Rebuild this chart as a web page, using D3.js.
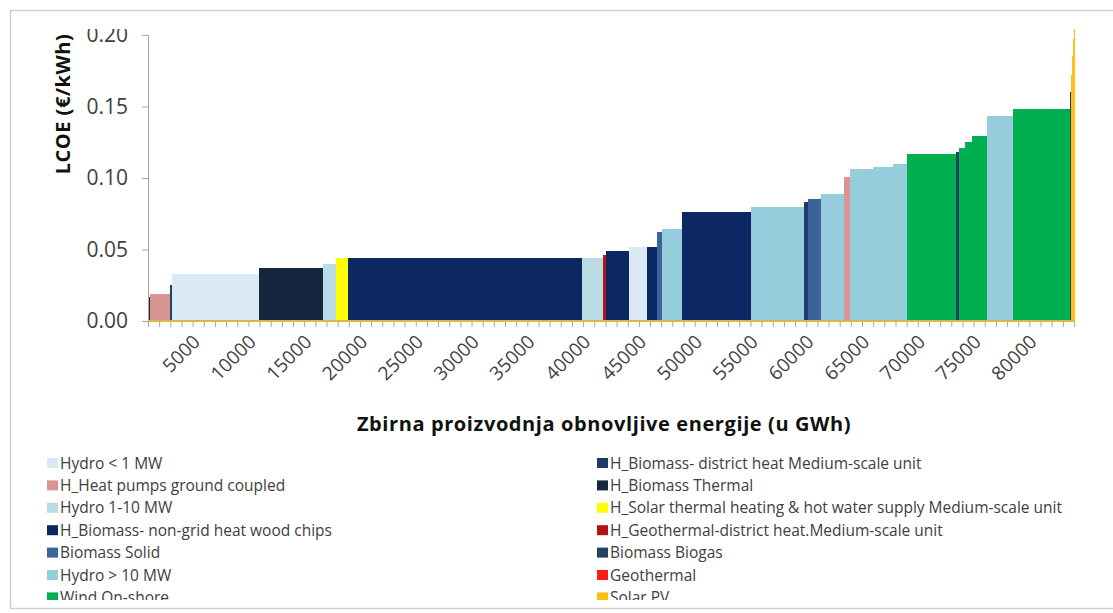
<!DOCTYPE html>
<html>
<head>
<meta charset="utf-8">
<script src="https://cdn.jsdelivr.net/npm/d3@7"></script>
<style>
  body { margin: 0; background: #fff; }
  text { font-family: "Open Sans", sans-serif; }
</style>
</head>
<body>
<div id="chart"></div>
<script>
// technologies (legend order, left column then right column)
var techNames = ["Hydro < 1 MW", "H_Heat pumps ground coupled", "Hydro 1-10 MW",
  "H_Biomass- non-grid heat wood chips", "Biomass Solid", "Hydro > 10 MW", "Wind On-shore",
  "H_Biomass- district heat Medium-scale unit", "H_Biomass Thermal",
  "H_Solar thermal heating & hot water supply Medium-scale unit",
  "H_Geothermal-district heat.Medium-scale unit", "Biomass Biogas", "Geothermal", "Solar PV"];
var techColors = ["#dae9f3", "#d99593", "#b9dce7", "#0b2863", "#3a639a", "#95cddc", "#00b050",
  "#1f3a68", "#16263f", "#ffff00", "#b31217", "#24445f", "#ff1a1a", "#fdc010"];

// supply curve steps: technology, production (GWh), LCOE (EUR/kWh)
var stepTech = ["H_Biomass Thermal", "H_Heat pumps ground coupled", "Biomass Biogas", "Hydro < 1 MW",
  "H_Biomass Thermal", "Hydro 1-10 MW", "H_Solar thermal heating & hot water supply Medium-scale unit",
  "H_Biomass- non-grid heat wood chips", "Hydro 1-10 MW", "H_Geothermal-district heat.Medium-scale unit",
  "H_Biomass- non-grid heat wood chips", "Hydro < 1 MW", "H_Biomass- non-grid heat wood chips",
  "Biomass Solid", "Hydro > 10 MW", "H_Biomass- non-grid heat wood chips", "Hydro > 10 MW",
  "H_Biomass- district heat Medium-scale unit", "Biomass Solid", "Hydro > 10 MW",
  "H_Heat pumps ground coupled", "Hydro > 10 MW", "Hydro > 10 MW", "Hydro > 10 MW",
  "Wind On-shore", "Biomass Biogas", "Wind On-shore", "Wind On-shore", "Wind On-shore",
  "Hydro > 10 MW", "Wind On-shore", "Biomass Biogas",
  "Solar PV", "Solar PV", "Solar PV", "Solar PV"];
var stepGWh = [180, 1790, 180, 7800, 5730, 1165, 1075, 20970, 1880, 270, 2060, 1610, 900, 450, 1790,
  6180, 4750, 360, 1165, 2060, 540, 2060, 1790, 1250, 4390, 270, 540, 630, 1345, 2330, 5110, 90,
  90, 90, 90, 90];
var stepLcoe = [0.017, 0.019, 0.025, 0.033, 0.037, 0.040, 0.044, 0.044, 0.044, 0.046, 0.049, 0.052,
  0.052, 0.062, 0.064, 0.076, 0.0795, 0.083, 0.085, 0.0887, 0.101, 0.106, 0.108, 0.110, 0.1167,
  0.118, 0.121, 0.125, 0.1297, 0.1434, 0.1483, 0.160, 0.172, 0.185, 0.197, 0.207];

var yTicks = [0, 0.05, 0.10, 0.15, 0.20];
var xLabels = d3.range(5000, 80001, 5000);

var width = 1113, height = 613;
var color = d3.scaleOrdinal().domain(techNames).range(techColors);

var ends = Array.from(d3.cumsum(stepGWh));
var steps = stepGWh.map(function(g, i) {
  return { tech: stepTech[i], x0: ends[i] - g, x1: ends[i], v: stepLcoe[i] };
});

var svg = d3.select('#chart').append('svg')
  .attr('width', width).attr('height', height);

svg.append('defs').append('clipPath').attr('id', 'frameClip')
  .append('rect').attr('x', 0).attr('y', 29).attr('width', width).attr('height', 571);

// frame
svg.append('rect')
  .attr('x', 10.5).attr('y', 10.5).attr('width', 1120).attr('height', 598)
  .attr('fill', 'none').attr('stroke', '#cfcfcf').attr('stroke-width', 1.5);

var g = svg.append('g').attr('clip-path', 'url(#frameClip)');

var x = d3.scaleLinear().domain([0, 83000]).range([148, 1074]);
var y = d3.scaleLinear().domain([0, 0.2]).range([321, 35]);

g.selectAll('rect.step')
  .data(steps)
  .enter()
  .append('rect')
  .attr('class', 'step')
  .attr('x', function(d) { return x(d.x0); })
  .attr('width', function(d) { return x(d.x1) - x(d.x0); })
  .attr('y', function(d) { return y(d.v); })
  .attr('height', function(d) { return y(0) - y(d.v); })
  .attr('fill', function(d) { return color(d.tech); })
  .attr('shape-rendering', 'crispEdges');

// y axis
var yAxis = g.append('g')
  .attr('transform', 'translate(148,0)')
  .call(d3.axisLeft(y).tickValues(yTicks).tickFormat(d3.format('.2f')).tickSize(6).tickPadding(14));
yAxis.select('.domain').attr('stroke', '#a6a6a6');
yAxis.selectAll('.tick line').attr('stroke', '#a6a6a6');
yAxis.selectAll('.tick text')
  .attr('font-family', '"Open Sans", sans-serif')
  .attr('font-size', 21).attr('fill', '#404040');

g.append('text')
  .attr('transform', 'translate(70,104) rotate(-90)')
  .attr('text-anchor', 'middle')
  .attr('font-size', 20).attr('font-weight', 'bold').attr('fill', '#111')
  .attr('letter-spacing', 0.5)
  .text('LCOE (€/kWh)');

// x axis
var xAxis = g.append('g')
  .attr('transform', 'translate(0,321)')
  .call(d3.axisBottom(x)
    .tickValues(d3.range(0, 83001, 1000))
    .tickSize(6)
    .tickFormat(function(d) { return xLabels.indexOf(d) >= 0 ? d : ''; }));
xAxis.select('.domain').remove();
xAxis.selectAll('.tick line').attr('stroke', '#a6a6a6');
xAxis.selectAll('.tick text')
  .attr('x', 0).attr('y', 0).attr('dy', 0)
  .attr('transform', 'translate(-3,22) rotate(-45)')
  .attr('text-anchor', 'end')
  .attr('font-family', '"Open Sans", sans-serif')
  .attr('font-size', 19).attr('fill', '#404040');

g.append('line')
  .attr('x1', 148).attr('x2', 1075).attr('y1', 321).attr('y2', 321)
  .attr('stroke', '#e0b548').attr('stroke-width', 2);

g.append('text')
  .attr('x', 604).attr('y', 431)
  .attr('text-anchor', 'middle')
  .attr('font-size', 20).attr('font-weight', 'bold').attr('fill', '#111')
  .attr('letter-spacing', 0.6)
  .text('Zbirna proizvodnja obnovljive energije (u GWh)');

// legend
var legend = g.selectAll('.legend')
  .data(techNames)
  .enter()
  .append('g')
  .attr('class', 'legend')
  .attr('transform', function(d, i) {
    var col = i < 7 ? 0 : 1;
    var row = i % 7;
    return 'translate(' + (col ? 597 : 47) + ',' + (463 + row * 22.4) + ')';
  });

legend.append('rect')
  .attr('x', 0).attr('y', -5).attr('width', 11).attr('height', 10)
  .attr('fill', function(d) { return color(d); });

legend.append('text')
  .attr('x', 13).attr('dy', '0.36em')
  .attr('font-size', 15.5).attr('fill', '#404040')
  .text(function(d) { return d; });
</script>
</body>
</html>
